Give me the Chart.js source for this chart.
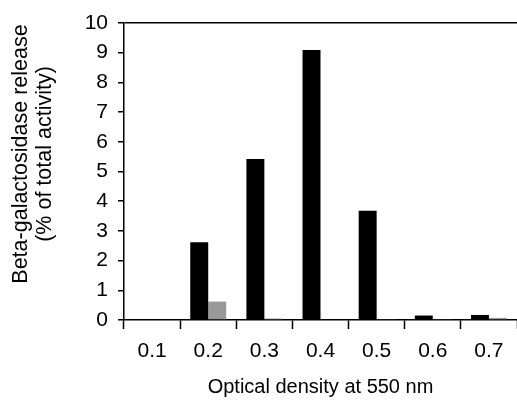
<!doctype html>
<html>

<head>
    <title>Beta-galactosidase release</title>
    <script src="https://cdn.jsdelivr.net/npm/chart.js"></script>
    <style>
        body { margin: 0; background: #fff; }
        #wrap { width: 517px; height: 400px; }
    </style>
</head>

<body>
    <div id="wrap">
        <canvas id="grafico"></canvas>
    </div>

    <script>
        // data
        const densidades = ['0.1', '0.2', '0.3', '0.4', '0.5', '0.6', '0.7']
        const serieEscura = [0, 2.62, 5.42, 9.09, 3.68, 0.15, 0.17]
        const serieCinza = [0, 0.62, 0.05, 0, 0.03, 0.03, 0.07]
        const tituloY = ['Beta-galactosidase release', '(% of total activity)']
        const tituloX = 'Optical density at 550 nm'

        const fonte = 'Liberation Sans, Arial, sans-serif'

        // y title drawn centred per line, like the original
        const tituloEixoY = {
            id: 'tituloEixoY',
            afterDraw(chart) {
                const { ctx } = chart
                ctx.save()
                ctx.fillStyle = '#000'
                ctx.font = '21.5px ' + fonte
                ctx.textAlign = 'center'
                ctx.textBaseline = 'alphabetic'
                ctx.translate(0, 154)
                ctx.rotate(-Math.PI / 2)
                ctx.fillText(tituloY[0], 0, 27)
                ctx.fillText(tituloY[1], 0, 51)
                ctx.restore()
            }
        }

        const grafico = new Chart(document.getElementById('grafico').getContext('2d'), {
            type: 'bar',
            data: {
                labels: densidades,
                datasets: [{
                    data: serieEscura,
                    backgroundColor: '#000'
                }, {
                    data: serieCinza,
                    backgroundColor: '#999'
                }]
            },
            options: {
                responsive: true,
                maintainAspectRatio: false,
                animation: false,
                datasets: {
                    bar: { categoryPercentage: 0.64, barPercentage: 1 }
                },
                layout: { padding: { top: 23, right: 0, left: 0, bottom: 0 } },
                plugins: {
                    legend: { display: false },
                    tooltip: { enabled: false }
                },
                scales: {
                    x: {
                        offset: true,
                        grid: {
                            offset: true,
                            drawOnChartArea: false,
                            tickColor: '#000',
                            tickLength: 9,
                            tickWidth: 1.5
                        },
                        border: { color: '#000', width: 1.5 },
                        ticks: {
                            color: '#000',
                            padding: 10,
                            font: { family: fonte, size: 21 }
                        },
                        title: {
                            display: true,
                            text: tituloX,
                            color: '#000',
                            padding: { top: 0, bottom: 1 },
                            font: { family: fonte, size: 20 }
                        },
                        afterFit(escala) { escala.height = 80 }
                    },
                    y: {
                        min: 0,
                        max: 10,
                        grid: {
                            color: (c) => c.tick && c.tick.value === 10 ? '#000' : 'rgba(0,0,0,0)',
                            lineWidth: 1.5,
                            tickColor: '#000',
                            tickLength: 6
                        },
                        border: { color: '#000', width: 1.5 },
                        ticks: {
                            stepSize: 1,
                            color: '#000',
                            padding: 10,
                            font: { family: fonte, size: 21 }
                        },
                        afterFit(escala) { escala.width = 124 }
                    }
                }
            },
            plugins: [tituloEixoY]
        });
    </script>
</body>

</html>
